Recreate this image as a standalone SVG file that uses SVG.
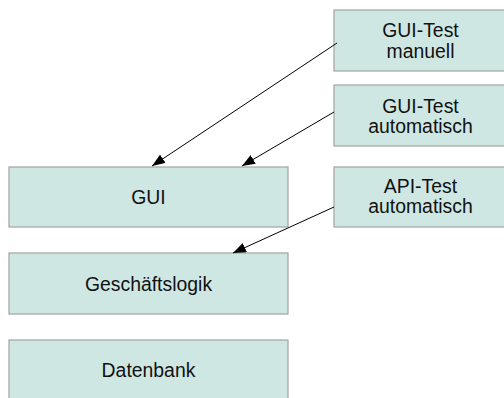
<svg xmlns="http://www.w3.org/2000/svg" width="504" height="398" viewBox="0 0 504 398">
<style>
.box{fill:#cfe7e3;stroke:#a3a3a3;stroke-width:1.2}
.t{font-family:"Liberation Sans",Arial,sans-serif;font-size:19.4px;fill:#111;text-anchor:middle}
.c{stroke:#000;stroke-width:1;fill:none;marker-end:url(#ah)}
</style>
<defs>
<marker id="ah" viewBox="0 0 13 10" refX="13" refY="5" markerWidth="13" markerHeight="10" markerUnits="userSpaceOnUse" orient="auto">
<path d="M0,0 L13,5 L0,10 Z" fill="#000"/>
</marker>
</defs>
<rect width="504" height="398" fill="#fff"/>
<g id="gui-test-manuell"><rect class="box" x="334" y="10" width="180" height="61"/><text class="t" x="420.5" y="37">GUI-Test</text><text class="t" x="420.5" y="58">manuell</text></g>
<g id="gui-test-automatisch"><rect class="box" x="334" y="85" width="180" height="61"/><text class="t" x="420.5" y="113">GUI-Test</text><text class="t" x="420.5" y="133">automatisch</text></g>
<g id="api-test-automatisch"><rect class="box" x="334" y="167" width="180" height="60"/><text class="t" x="420.5" y="193">API-Test</text><text class="t" x="420.5" y="213">automatisch</text></g>
<g id="gui"><rect class="box" x="9" y="167" width="279" height="60"/><text class="t" x="148.5" y="204">GUI</text></g>
<g id="geschaeftslogik"><rect class="box" x="9" y="253" width="279" height="61"/><text class="t" x="148.5" y="291">Geschäftslogik</text></g>
<g id="datenbank"><rect class="box" x="9" y="340" width="279" height="70"/><text class="t" x="148.5" y="377">Datenbank</text></g>
<g id="connectors">
<path class="c" d="M337,43 L152,166"/>
<path class="c" d="M334,112 L242,166"/>
<path class="c" d="M334,207 L233,253"/>
</g>
</svg>
